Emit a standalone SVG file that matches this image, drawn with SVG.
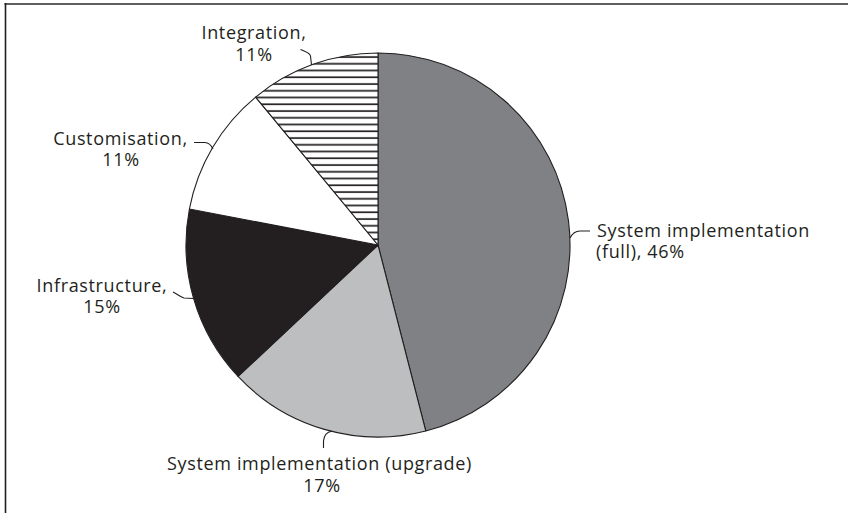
<svg xmlns="http://www.w3.org/2000/svg" width="848" height="513" viewBox="0 0 848 513">
<style>
.lbl{font-family:"Open Sans","Liberation Sans",sans-serif;font-size:18px;letter-spacing:0.65px;fill:#231F20}
.slice{stroke:#231F20;stroke-width:1.1;stroke-linejoin:round}
.lead{fill:none;stroke:#231F20;stroke-width:1.1}
</style>
<defs>
<pattern id="hatch" patternUnits="userSpaceOnUse" width="20" height="6.75">
<rect x="0" y="0" width="20" height="6.75" fill="#fff"/>
<rect x="0" y="2.2" width="20" height="1.7" fill="#231F20"/>
</pattern>
</defs>
<rect width="848" height="513" fill="#fff"/>
<g id="frame">
<line x1="4.5" y1="4" x2="848" y2="4" stroke="#5f5f5f" stroke-width="1.8"/>
<line x1="5.5" y1="3" x2="5.5" y2="513" stroke="#231F20" stroke-width="1.6"/>
</g>
<g id="slice-full"><path class="slice" fill="#808184" d="M378,245 L378,53 A192,192 0 0,1 425.75,430.97 Z"/></g>
<g id="slice-upgrade"><path class="slice" fill="#BCBEC0" d="M378,245 L425.75,430.97 A192,192 0 0,1 238.03,376.42 Z"/></g>
<g id="slice-infrastructure"><path class="slice" fill="#231F20" d="M378,245 L238.03,376.42 A192,192 0 0,1 189.4,209.02 Z"/></g>
<g id="slice-customisation"><path class="slice" fill="#fff" d="M378,245 L189.4,209.02 A192,192 0 0,1 255.62,97.06 Z"/></g>
<g id="slice-integration"><path class="slice" fill="url(#hatch)" d="M378,245 L255.62,97.06 A192,192 0 0,1 378,53 Z"/></g>
<g id="connectors">
<path class="lead" d="M300.5,49.5 C306,52 310,53 310.5,56 L311.5,65"/>
<path class="lead" d="M194,142.5 L205,142.5 C208,142.5 211,145 213,149"/>
<path class="lead" d="M173,292 C177,294 180,297 184,298 L193.5,298.5"/>
<path class="lead" d="M323.5,448 L323.5,441 C324,436 327,432 331.7,431.3"/>
<path class="lead" d="M570,238 C572,234 575,231 580,231 L590,231"/>
</g>
<g id="label-integration">
<text class="lbl" x="254" y="39" text-anchor="middle">Integration,</text>
<text class="lbl" x="254" y="60.5" text-anchor="middle">11%</text>
</g>
<g id="label-customisation">
<text class="lbl" x="120.5" y="145" text-anchor="middle">Customisation,</text>
<text class="lbl" x="121" y="166" text-anchor="middle">11%</text>
</g>
<g id="label-infrastructure">
<text class="lbl" x="102" y="292" text-anchor="middle">Infrastructure,</text>
<text class="lbl" x="102" y="313" text-anchor="middle">15%</text>
</g>
<g id="label-upgrade">
<text class="lbl" x="167" y="470">System implementation (upgrade)</text>
<text class="lbl" x="322" y="491.5" text-anchor="middle">17%</text>
</g>
<g id="label-full">
<text class="lbl" x="597" y="237">System implementation</text>
<text class="lbl" x="596" y="258">(full), 46%</text>
</g>
</svg>
